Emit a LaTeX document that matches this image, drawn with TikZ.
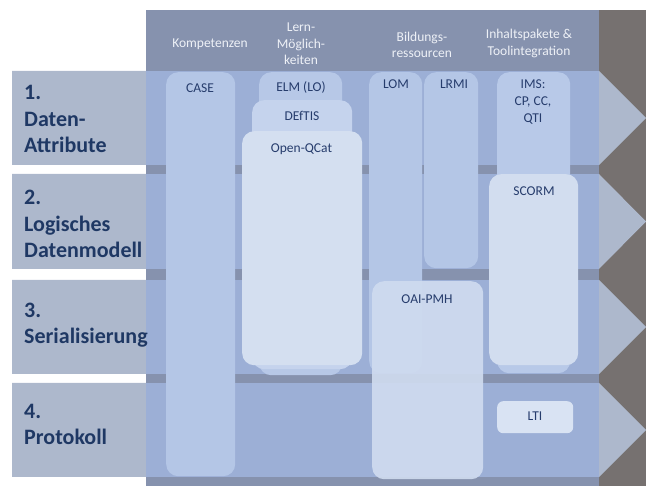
\documentclass[tikz,border=0pt]{standalone}
\usepackage{fontspec}
\setmainfont{Carlito}
\definecolor{rightgray}{HTML}{767170}
\definecolor{rowgray}{HTML}{ADB8CC}
\definecolor{headslate}{HTML}{8692AE}
\definecolor{panelblue}{HTML}{9CAFD6}
\definecolor{boxA}{HTML}{B4C6E6}
\definecolor{boxELM}{HTML}{B7C8E7}
\definecolor{boxDEF}{HTML}{C5D3ED}
\definecolor{boxQC}{HTML}{D4DFF0}
\definecolor{boxIMS}{HTML}{B8C9E8}
\definecolor{boxSC}{HTML}{D2DDEF}
\definecolor{boxOAI}{HTML}{CFDBEF}
\definecolor{boxLTI}{HTML}{D9E3F3}
\definecolor{navy}{HTML}{1F3864}
\definecolor{boxtext}{HTML}{263C6C}
\definecolor{headtext}{HTML}{EEF1F7}
\begin{document}
\begin{tikzpicture}[x=1pt,y=-1pt,
  rowlabel/.style={anchor=base west,align=left,inner sep=0pt,text=navy,
    font=\fontsize{22}{26.5}\selectfont\bfseries},
  headlabel/.style={align=center,inner sep=0pt,text=headtext,
    font=\fontsize{13.5}{16.5}\selectfont},
  boxlabel/.style={anchor=mid,align=center,inner sep=0pt,text=boxtext,
    font=\fontsize{13.5}{17}\selectfont},
  lbox/.style={anchor=north west,inner sep=0pt,rounded corners=12pt,draw=none}]
\useasboundingbox (0,0) rectangle (646,486);
% right dark region
\fill[rightgray] (599,10) rectangle (646,486);
% row bands with chevrons
\fill[rowgray] (12,71) -- (599,71) -- (646,118) -- (599,165) -- (12,165) -- cycle;
\fill[rowgray] (12,174) -- (599,174) -- (646,221.5) -- (599,269) -- (12,269) -- cycle;
\fill[rowgray] (12,280) -- (599,280) -- (646,327) -- (599,374) -- (12,374) -- cycle;
\fill[rowgray] (12,383) -- (599,383) -- (646,430) -- (599,477) -- (12,477) -- cycle;
% panel
\fill[headslate] (146,10) rectangle (599,486);
\fill[panelblue] (146,71) rectangle (599,165);
\fill[panelblue] (146,174) rectangle (599,269);
\fill[panelblue] (146,280) rectangle (599,374);
\fill[panelblue] (146,383) rectangle (599,477);
% row labels (base = baseline of last line)
\node[rowlabel] (r1) at (24,153) {1.\\Daten-\\Attribute};
\node[rowlabel] (r2) at (24,258) {2.\\Logisches\\Datenmodell};
\node[rowlabel] (r3) at (24,344) {3.\\Serialisierung};
\node[rowlabel] (r4) at (24,445) {4.\\Protokoll};
% header labels
\node[headlabel] (h1) at (210,44) {Kompetenzen};
\node[headlabel] (h2) at (301,44) {Lern-\\Möglich-\\keiten};
\node[headlabel] (h3) at (422,45) {Bildungs-\\ressourcen};
\node[headlabel] (h4) at (529,43.5) {Inhaltspakete \&\\Toolintegration};
% boxes
\node[lbox,fill=boxA,minimum width=69pt,minimum height=404pt] (casebox) at (166,72) {};
\node[lbox,fill=boxELM,minimum width=83pt,minimum height=303pt] (elmbox) at (259,72) {};
\node[lbox,fill=boxDEF,minimum width=100pt,minimum height=269pt] (defbox) at (252,100) {};
\node[lbox,fill=boxQC,minimum width=120pt,minimum height=234pt] (qcbox) at (242,131) {};
\node[lbox,fill=boxA,minimum width=53pt,minimum height=301pt] (lombox) at (369,72) {};
\node[lbox,fill=boxA,minimum width=54pt,minimum height=196pt] (lrmibox) at (424,72) {};
\node[lbox,fill=boxIMS,minimum width=73pt,minimum height=301pt] (imsbox) at (497,72) {};
\node[lbox,fill=boxSC,minimum width=89pt,minimum height=191pt] (scbox) at (489,174) {};
\node[lbox,fill=boxOAI,fill opacity=0.92,minimum width=111pt,minimum height=198pt] (oaibox) at (372,281) {};
\node[lbox,fill=boxLTI,rounded corners=6pt,minimum width=76pt,minimum height=32pt] (ltibox) at (497,401) {};
% box labels
\node[boxlabel] (case) at (200,90) {CASE};
\node[boxlabel] (elm) at (301,89) {ELM (LO)};
\node[boxlabel] (def) at (302,118) {DEfTIS};
\node[boxlabel] (qc) at (301.5,150) {Open-QCat};
\node[boxlabel] (lom) at (396,86) {LOM};
\node[boxlabel] (lrmi) at (454,86) {LRMI};
\node[anchor=center,align=center,inner sep=0pt,text=boxtext,
  font=\fontsize{13.5}{17}\selectfont] (ims) at (533,102) {IMS:\\CP, CC,\\QTI};
\node[boxlabel] (scorm) at (534,193) {SCORM};
\node[boxlabel] (oai) at (427,301) {OAI-PMH};
\node[boxlabel] (lti) at (535,418) {LTI};
\end{tikzpicture}
\end{document}
